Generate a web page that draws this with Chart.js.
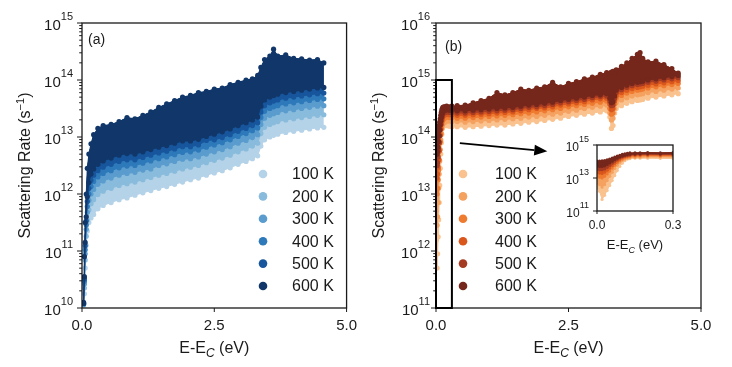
<!DOCTYPE html>
<html>
<head>
<meta charset="utf-8">
<script src="https://cdn.jsdelivr.net/npm/chart.js@4.4.1/dist/chart.umd.min.js"></script>
<style>
  html, body { margin: 0; padding: 0; background: #fff; }
  #fig { position: relative; width: 732px; height: 367px; }
  #fig canvas { position: absolute; }
</style>
</head>
<body>
<div id="fig">
  <canvas id="panelA" width="366" height="367" style="left:0;top:0"></canvas>
  <canvas id="panelB" width="366" height="367" style="left:366px;top:0"></canvas>
  <canvas id="inset" width="150" height="125" style="left:540px;top:135px"></canvas>
</div>
<script>
const FONT = '"Liberation Sans", Arial, Helvetica, sans-serif';
const INK = '#1a1a1a';

const temps = [100, 200, 300, 400, 500, 600];
const blues = ['#b4d2e8', '#89bbdc', '#5a9ccd', '#2d79ba', '#17559c', '#11376a'];
const oranges = ['#f9c28e', '#f5a160', '#ef7b31', '#d9561c', '#a63b23', '#76271b'];

// tick labels
const xTicksMain = [0, 2.5, 5];
const xTicksInset = [0, 0.3];
const decadesA = [10, 11, 12, 13, 14, 15];
const decadesB = [11, 12, 13, 14, 15, 16];
const decadesInset = [11, 13, 15];
const insetX = [0, 0.3];       // zoom window shown in the inset (eV)
const insetY = [11, 15];       // zoom window, log10 of rate

// panel (a): energy E-Ec (eV), edges of each cloud as log10(rate / s^-1)
const energyA = [0.03, 0.045, 0.06, 0.08, 0.1, 0.13, 0.17, 0.22, 0.3, 0.4, 0.55, 0.7, 0.85, 1.0, 1.15, 1.3, 1.45, 1.6, 1.75, 1.9, 2.05, 2.2, 2.35, 2.5, 2.65, 2.8, 2.95, 3.1, 3.22, 3.32, 3.38, 3.45, 3.55, 3.62, 3.7, 3.85, 4.0, 4.15, 4.3, 4.45, 4.57];
const topA = [10.1, 10.9, 11.5, 12.0, 12.45, 12.7, 12.88, 13.04, 13.15, 13.2, 13.22, 13.27, 13.34, 13.32, 13.38, 13.44, 13.52, 13.58, 13.64, 13.7, 13.73, 13.78, 13.8, 13.84, 13.86, 13.92, 13.96, 14.0, 14.02, 14.08, 14.22, 14.36, 14.42, 14.54, 14.42, 14.44, 14.38, 14.37, 14.35, 14.36, 14.3];
const lowA100 = [10.05, 10.25, 10.7, 11.1, 11.35, 11.5, 11.58, 11.64, 11.74, 11.8, 11.85, 11.9, 11.93, 11.98, 12.02, 12.06, 12.1, 12.13, 12.17, 12.21, 12.25, 12.28, 12.33, 12.37, 12.41, 12.46, 12.52, 12.57, 12.62, 12.67, 12.84, 12.95, 13.0, 13.03, 13.05, 13.08, 13.1, 13.12, 13.14, 13.16, 13.17];
const lowA200 = [10.06, 10.35, 10.84, 11.26, 11.54, 11.72, 11.83, 11.9, 11.99, 12.05, 12.1, 12.15, 12.18, 12.21, 12.25, 12.29, 12.33, 12.36, 12.4, 12.44, 12.47, 12.5, 12.55, 12.59, 12.63, 12.68, 12.74, 12.79, 12.84, 12.89, 13.06, 13.17, 13.22, 13.25, 13.27, 13.3, 13.32, 13.34, 13.36, 13.38, 13.39];
const lowA300 = [10.07, 10.42, 10.95, 11.38, 11.68, 11.89, 12.0, 12.08, 12.17, 12.23, 12.28, 12.33, 12.36, 12.38, 12.42, 12.44, 12.5, 12.53, 12.57, 12.61, 12.62, 12.65, 12.7, 12.74, 12.78, 12.83, 12.89, 12.94, 12.99, 13.04, 13.22, 13.33, 13.38, 13.41, 13.43, 13.46, 13.48, 13.5, 13.52, 13.54, 13.55];
const lowA400 = [10.07, 10.47, 11.02, 11.46, 11.78, 12.0, 12.13, 12.22, 12.3, 12.36, 12.41, 12.46, 12.49, 12.5, 12.54, 12.58, 12.62, 12.65, 12.69, 12.73, 12.74, 12.77, 12.82, 12.86, 12.9, 12.95, 13.01, 13.06, 13.11, 13.16, 13.34, 13.45, 13.5, 13.53, 13.55, 13.58, 13.6, 13.62, 13.64, 13.66, 13.67];
const lowA500 = [10.08, 10.51, 11.09, 11.53, 11.87, 12.1, 12.24, 12.33, 12.41, 12.47, 12.52, 12.57, 12.6, 12.6, 12.64, 12.68, 12.72, 12.75, 12.79, 12.83, 12.83, 12.86, 12.94, 12.95, 12.99, 13.04, 13.1, 13.15, 13.2, 13.25, 13.44, 13.55, 13.6, 13.63, 13.65, 13.68, 13.7, 13.72, 13.74, 13.76, 13.77];
const lowA600 = [10.08, 10.55, 11.15, 11.6, 11.95, 12.2, 12.35, 12.44, 12.52, 12.58, 12.63, 12.68, 12.71, 12.7, 12.74, 12.78, 12.82, 12.85, 12.89, 12.93, 12.93, 12.96, 13.01, 13.05, 13.09, 13.14, 13.2, 13.25, 13.3, 13.35, 13.54, 13.65, 13.7, 13.73, 13.75, 13.78, 13.8, 13.82, 13.84, 13.86, 13.87];

// panel (b) and its inset
const energyB = [0.0, 0.01, 0.02, 0.03, 0.04, 0.05, 0.06, 0.07, 0.08, 0.09, 0.1, 0.11, 0.12, 0.13, 0.15, 0.17, 0.2, 0.25, 0.3, 0.4, 0.55, 0.7, 0.85, 1.0, 1.15, 1.3, 1.45, 1.6, 1.75, 1.9, 2.05, 2.2, 2.35, 2.5, 2.65, 2.8, 2.95, 3.1, 3.22, 3.28, 3.31, 3.34, 3.37, 3.4, 3.5, 3.6, 3.7, 3.8, 3.85, 3.9, 4.0, 4.15, 4.3, 4.45, 4.57];
const topB = [14.02, 14.02, 14.04, 14.06, 14.1, 14.15, 14.2, 14.26, 14.32, 14.38, 14.43, 14.47, 14.5, 14.52, 14.53, 14.53, 14.54, 14.53, 14.54, 14.55, 14.56, 14.6, 14.64, 14.68, 14.78, 14.74, 14.78, 14.84, 14.82, 14.86, 14.88, 14.96, 14.88, 14.94, 14.97, 15.02, 15.05, 15.1, 15.13, 15.12, 15.14, 15.15, 15.14, 15.18, 15.24, 15.3, 15.38, 15.45, 15.48, 15.38, 15.32, 15.33, 15.27, 15.2, 15.12];
const lowB100 = [12.4, 12.2, 11.7, 11.95, 12.25, 12.55, 12.85, 13.15, 13.45, 13.7, 13.9, 14.05, 14.15, 14.18, 14.2, 14.2, 14.2, 14.19, 14.18, 14.18, 14.17, 14.18, 14.19, 14.2, 14.21, 14.21, 14.23, 14.24, 14.26, 14.27, 14.29, 14.31, 14.33, 14.36, 14.38, 14.4, 14.42, 14.44, 14.46, 14.35, 14.15, 14.2, 14.42, 14.5, 14.55, 14.59, 14.62, 14.64, 14.65, 14.66, 14.68, 14.7, 14.72, 14.74, 14.76];
const lowB200 = [12.7, 12.6, 12.45, 12.6, 12.85, 13.1, 13.35, 13.58, 13.78, 13.95, 14.07, 14.15, 14.2, 14.23, 14.25, 14.26, 14.28, 14.28, 14.27, 14.27, 14.26, 14.27, 14.28, 14.29, 14.3, 14.31, 14.32, 14.33, 14.35, 14.36, 14.38, 14.4, 14.42, 14.45, 14.47, 14.5, 14.52, 14.54, 14.56, 14.42, 14.3, 14.33, 14.5, 14.6, 14.65, 14.69, 14.72, 14.74, 14.75, 14.76, 14.78, 14.8, 14.82, 14.84, 14.86];
const lowB300 = [13.1, 13.05, 13.0, 13.1, 13.25, 13.42, 13.6, 13.77, 13.92, 14.05, 14.15, 14.22, 14.27, 14.3, 14.32, 14.34, 14.35, 14.34, 14.34, 14.33, 14.33, 14.34, 14.35, 14.36, 14.37, 14.38, 14.39, 14.41, 14.42, 14.44, 14.46, 14.48, 14.5, 14.53, 14.55, 14.57, 14.59, 14.61, 14.63, 14.5, 14.4, 14.42, 14.58, 14.68, 14.73, 14.77, 14.8, 14.82, 14.83, 14.84, 14.86, 14.88, 14.9, 14.92, 14.94];
const lowB400 = [13.32, 13.3, 13.28, 13.35, 13.47, 13.6, 13.75, 13.9, 14.03, 14.14, 14.23, 14.29, 14.33, 14.36, 14.38, 14.39, 14.4, 14.39, 14.39, 14.38, 14.38, 14.39, 14.4, 14.41, 14.42, 14.43, 14.44, 14.46, 14.48, 14.5, 14.51, 14.53, 14.56, 14.58, 14.6, 14.62, 14.65, 14.67, 14.68, 14.58, 14.48, 14.5, 14.63, 14.73, 14.78, 14.82, 14.85, 14.87, 14.88, 14.89, 14.91, 14.93, 14.95, 14.97, 14.99];
const lowB500 = [13.52, 13.5, 13.5, 13.55, 13.65, 13.77, 13.9, 14.02, 14.13, 14.22, 14.29, 14.34, 14.37, 14.4, 14.42, 14.43, 14.44, 14.43, 14.43, 14.42, 14.42, 14.43, 14.44, 14.45, 14.46, 14.47, 14.48, 14.5, 14.52, 14.53, 14.55, 14.57, 14.6, 14.62, 14.64, 14.66, 14.69, 14.71, 14.72, 14.63, 14.55, 14.56, 14.68, 14.78, 14.83, 14.87, 14.9, 14.92, 14.93, 14.94, 14.96, 14.98, 15.0, 15.02, 15.04];
const lowB600 = [13.72, 13.7, 13.7, 13.74, 13.82, 13.92, 14.02, 14.12, 14.21, 14.28, 14.34, 14.39, 14.42, 14.44, 14.46, 14.47, 14.48, 14.47, 14.47, 14.46, 14.46, 14.47, 14.48, 14.49, 14.5, 14.51, 14.52, 14.54, 14.56, 14.57, 14.59, 14.61, 14.64, 14.66, 14.68, 14.7, 14.73, 14.74, 14.76, 14.68, 14.6, 14.62, 14.72, 14.82, 14.87, 14.91, 14.94, 14.96, 14.97, 14.98, 15.0, 15.02, 15.04, 15.06, 15.08];

const lowsA = [lowA100, lowA200, lowA300, lowA400, lowA500, lowA600];
const lowsB = [lowB100, lowB200, lowB300, lowB400, lowB500, lowB600];

// each temperature is a band from its lower edge up to the top edge,
// drawn coolest first so the hotter clouds sit on top
function bands(energy, top, lows, colors, radius) {
  const topIndex = lows.length;
  const sets = lows.map((low, i) => ({
    label: temps[i] + ' K',
    data: energy.map((e, j) => ({ x: e, y: 10 ** low[j] })),
    backgroundColor: colors[i],
    borderColor: colors[i],
    borderWidth: 1,
    pointRadius: radius,
    pointBorderWidth: 0,
    tension: 0,
    fill: topIndex,
    order: topIndex - i,
  }));
  sets.push({
    label: 'top',
    data: energy.map((e, j) => ({ x: e, y: 10 ** top[j] })),
    backgroundColor: colors[topIndex - 1],
    borderColor: colors[topIndex - 1],
    borderWidth: 1,
    pointRadius: radius,
    pointBorderWidth: 0,
    tension: 0,
    fill: false,
    order: 0,
  });
  return sets;
}

function axes(o) {
  return {
    x: {
      type: 'linear', min: o.xRange[0], max: o.xRange[1],
      afterBuildTicks: s => { s.ticks = o.xTicks.map(v => ({ value: v })); },
      ticks: {
        callback: v => v.toFixed(1), color: INK, padding: o.xPad,
        font: { family: FONT, size: o.tickSize }, maxRotation: 0, autoSkip: false,
      },
      grid: { display: false, drawTicks: false },
      border: { display: false },
      afterFit: s => { s.height = o.xHeight; },
    },
    y: {
      type: 'logarithmic',
      min: 10 ** o.yRange[0], max: 10 ** o.yRange[1],
      afterBuildTicks: s => { s.ticks = o.decades.map(k => ({ value: 10 ** k })); },
      ticks: { display: false },
      grid: { display: false },
      border: { display: false },
      afterFit: s => { s.width = o.yWidth; },
    },
  };
}

function seg(ctx, x0, y0, x1, y1) {
  ctx.beginPath(); ctx.moveTo(x0, y0); ctx.lineTo(x1, y1); ctx.stroke();
}

// "10" with a raised exponent, right aligned at xr
function power(ctx, xr, y, exp, size, esize, dy) {
  ctx.textAlign = 'left';
  ctx.textBaseline = 'alphabetic';
  ctx.font = esize + 'px ' + FONT;
  const we = ctx.measureText(String(exp)).width;
  ctx.font = size + 'px ' + FONT;
  const wb = ctx.measureText('10').width;
  ctx.fillText('10', xr - we - wb, y + dy[0]);
  ctx.font = esize + 'px ' + FONT;
  ctx.fillText(String(exp), xr - we, y + dy[1]);
}

// a run of text pieces [text, size, raise, italic] centred on 0
function pieces(ctx, parts, x, y) {
  let w = 0;
  parts.forEach(p => { ctx.font = (p[3] ? 'italic ' : '') + p[1] + 'px ' + FONT; w += ctx.measureText(p[0]).width; });
  let cx = x - w / 2;
  ctx.textAlign = 'left';
  ctx.textBaseline = 'alphabetic';
  parts.forEach(p => {
    ctx.font = (p[3] ? 'italic ' : '') + p[1] + 'px ' + FONT;
    ctx.fillText(p[0], cx, y - p[2]);
    cx += ctx.measureText(p[0]).width;
  });
}

const decor = {
  id: 'decor',
  afterDraw(chart, args, o) {
    const { ctx, chartArea: a } = chart;
    const x = chart.scales.x, y = chart.scales.y;
    ctx.save();
    ctx.strokeStyle = INK;
    ctx.fillStyle = INK;
    ctx.lineWidth = 1.3;
    ctx.strokeRect(a.left, a.top, a.right - a.left, a.bottom - a.top);

    ctx.lineWidth = 1;
    o.decades.forEach(k => {
      const py = y.getPixelForValue(10 ** k);
      seg(ctx, a.left - o.major, py, a.left, py);
      power(ctx, a.left - o.gap, py, k, o.tickSize, o.expSize, o.powDy);
    });
    if (o.minor) {
      for (let k = o.decades[0]; k < o.decades[o.decades.length - 1]; k++) {
        for (let m = 2; m <= 9; m++) {
          const py = y.getPixelForValue(m * 10 ** k);
          seg(ctx, a.left - o.minor, py, a.left, py);
        }
      }
    }
    o.xTicks.forEach(v => {
      const px = x.getPixelForValue(v);
      seg(ctx, px, a.bottom, px, a.bottom + o.major - 1);
    });

    // axis titles
    const sz = o.titleSize;
    pieces(ctx, [['E-E', sz, 0], ['C', Math.round(sz * 0.72), -4, true], [' (eV)', sz, 0]],
      (a.left + a.right) / 2, o.xTitleY);
    if (o.yTitleX) {
      ctx.save();
      ctx.translate(o.yTitleX, (a.top + a.bottom) / 2);
      ctx.rotate(-Math.PI / 2);
      pieces(ctx, [['Scattering Rate (s', sz, 0], ['\u22121', Math.round(sz * 0.68), 6], [')', sz, 0]], 0, 0);
      ctx.restore();
    }
    if (o.tag) {
      ctx.font = '14px ' + FONT;
      ctx.textAlign = 'left';
      ctx.fillText(o.tag, o.tag_x, o.tag_y);
    }

    // legend, one dot per temperature
    if (o.legend) {
      const L = o.legend;
      chart.data.datasets.slice(0, temps.length).forEach((d, i) => {
        const ly = L.y + i * L.dy;
        ctx.fillStyle = d.backgroundColor;
        ctx.beginPath(); ctx.arc(L.x, ly, 4.3, 0, Math.PI * 2); ctx.fill();
        ctx.fillStyle = INK;
        ctx.font = '16px ' + FONT;
        ctx.textAlign = 'left';
        ctx.textBaseline = 'middle';
        ctx.fillText(d.label, L.tx, ly + 1);
      });
      ctx.textBaseline = 'alphabetic';
    }

    // zoom box and arrow pointing to the inset
    if (o.zoom) {
      const z = o.zoom;
      const x0 = x.getPixelForValue(z.x[0]), x1 = x.getPixelForValue(z.x[1]);
      const y0 = y.getPixelForValue(10 ** z.y[1]), y1 = y.getPixelForValue(10 ** z.y[0]);
      ctx.lineWidth = 2;
      ctx.strokeStyle = '#000';
      ctx.strokeRect(x0, y0, x1 - x0, y1 - y0);
      const ax0 = x.getPixelForValue(z.from[0]), ay0 = y.getPixelForValue(z.from[1]);
      const ax1 = x.getPixelForValue(z.to[0]), ay1 = y.getPixelForValue(z.to[1]);
      const ang = Math.atan2(ay1 - ay0, ax1 - ax0);
      const hl = 13, hw = 5.5;
      const bx = ax1 - hl * Math.cos(ang), by = ay1 - hl * Math.sin(ang);
      ctx.lineWidth = 1.6;
      seg(ctx, ax0, ay0, bx, by);
      ctx.fillStyle = '#000';
      ctx.beginPath();
      ctx.moveTo(ax1, ay1);
      ctx.lineTo(bx + hw * Math.sin(ang), by - hw * Math.cos(ang));
      ctx.lineTo(bx - hw * Math.sin(ang), by + hw * Math.cos(ang));
      ctx.closePath();
      ctx.fill();
    }
    ctx.restore();
  },
};

function makeChart(id, energy, top, lows, colors, radius, o) {
  return new Chart(document.getElementById(id), {
    type: 'line',
    data: { datasets: bands(energy, top, lows, colors, radius) },
    options: {
      responsive: false,
      animation: false,
      events: [],
      layout: { padding: o.padding },
      scales: axes(o),
      plugins: { legend: { display: false }, tooltip: { enabled: false }, decor: o },
    },
    plugins: [decor],
  });
}

makeChart('panelA', energyA, topA, lowsA, blues, 2.6, {
  padding: { left: 0, right: 18, top: 23, bottom: 0 },
  xRange: [0, 5], yRange: [decadesA[0], decadesA[5]],
  xTicks: xTicksMain, decades: decadesA,
  xHeight: 59, yWidth: 82, xPad: 9, tickSize: 15, expSize: 11, powDy: [7, -3],
  major: 5, minor: 2.8, gap: 9, titleSize: 16, xTitleY: 353, yTitleX: 30,
  tag: '(a)', tag_x: 88, tag_y: 44,
  legend: { x: 263, y: 174, dy: 22.4, tx: 292 },
});

makeChart('panelB', energyB, topB, lowsB, oranges, 2.6, {
  padding: { left: 0, right: 31, top: 23, bottom: 0 },
  xRange: [0, 5], yRange: [decadesB[0], decadesB[5]],
  xTicks: xTicksMain, decades: decadesB,
  xHeight: 59, yWidth: 70, xPad: 9, tickSize: 15, expSize: 11, powDy: [7, -3],
  major: 5, minor: 2.8, gap: 6, titleSize: 16, xTitleY: 353, yTitleX: 17.5,
  tag: '(b)', tag_x: 79, tag_y: 51,
  legend: { x: 97, y: 174, dy: 22.4, tx: 129 },
  zoom: { x: insetX, y: insetY, from: [0.45, 7.8e13], to: [2.1, 5.6e13] },
});

makeChart('inset', energyB, topB, lowsB, oranges, 1.6, {
  padding: { left: 0, right: 17, top: 10, bottom: 0 },
  xRange: insetX, yRange: insetY,
  xTicks: xTicksInset, decades: decadesInset,
  xHeight: 49, yWidth: 57, xPad: 7, tickSize: 12, expSize: 9, powDy: [6, -3],
  major: 4, minor: 0, gap: 8, titleSize: 13, xTitleY: 114, yTitleX: 0,
});
</script>
</body>
</html>
